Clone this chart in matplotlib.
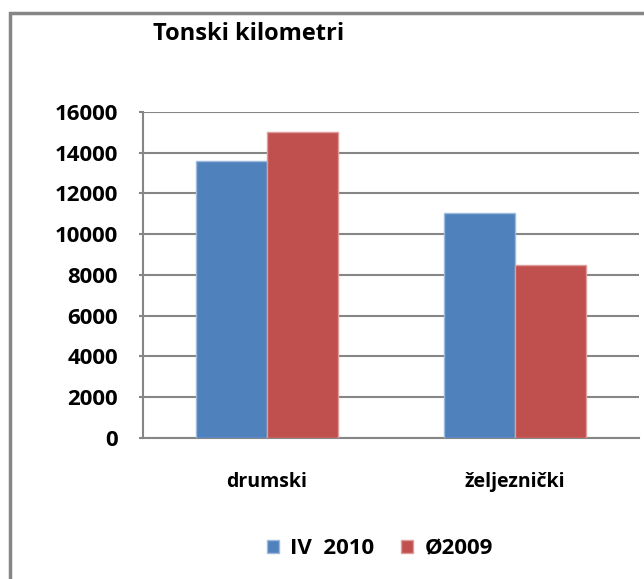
import numpy as np
import matplotlib.pyplot as plt
from matplotlib.patches import Rectangle

# data
categories = ['drumski', 'željeznički']
series_names = ['IV  2010', 'Ø2009']
values_2010 = [13600, 11050]
values_2009 = [15000, 8470]
y_ticks = [0, 2000, 4000, 6000, 8000, 10000, 12000, 14000, 16000]

colors = ['#4F81BD', '#C0504D']
edges = ['#9DB9DC', '#DE9C9A']

plt.rcParams['font.family'] = ['Open Sans', 'DejaVu Sans']
plt.rcParams['font.weight'] = 'bold'

fig = plt.figure(figsize=(6.44, 5.79), dpi=100)
ax = fig.add_axes([143 / 644, 1 - 437.7 / 579, 496 / 644, 325.7 / 579])

x = np.arange(len(categories))
width = 1 / 3.5

ax.bar(x - width / 2, values_2010, width, color=colors[0], edgecolor=edges[0],
       linewidth=1, label=series_names[0], zorder=3)
ax.bar(x + width / 2, values_2009, width, color=colors[1], edgecolor=edges[1],
       linewidth=1, label=series_names[1], zorder=3)

ax.set_xlim(-0.5, len(categories) - 0.5)
ax.set_ylim(0, 16000)
ax.set_yticks(y_ticks)
ax.set_yticklabels([str(t) for t in y_ticks], fontsize=16, fontweight='bold')
ax.set_xticks(x)
ax.set_xticklabels(categories, fontsize=14, fontweight='bold')

# gridlines and axes
ax.yaxis.grid(True, color='#868686', linewidth=1.5, zorder=0)
for side in ['top', 'right']:
    ax.spines[side].set_visible(False)
ax.spines['left'].set_color('#868686')
ax.spines['left'].set_linewidth(1.5)
ax.spines['bottom'].set_color('#868686')
ax.spines['bottom'].set_linewidth(1.5)
ax.tick_params(axis='y', length=3, width=1.5, color='#868686', pad=15)
ax.tick_params(axis='x', length=0, pad=25)

# title
fig.text(249 / 644, 1 - 34 / 579, 'Tonski kilometri', fontsize=17,
         fontweight='bold', ha='center', va='center')

# legend
fig.legend(loc='center', bbox_to_anchor=(380 / 644, 1 - 549 / 579), ncol=2,
           frameon=False, fontsize=16, handlelength=0.55, handleheight=0.55,
           handletextpad=0.5, columnspacing=1.2)

# outer chart frame
frame = Rectangle((10 / 644, -0.1), 1.2, 1 - 13 / 579 + 0.1, transform=fig.transFigure,
                  fill=False, edgecolor='#868686', linewidth=2.5, clip_on=False)
fig.patches.append(frame)

fig.savefig('out.png', dpi=100)
